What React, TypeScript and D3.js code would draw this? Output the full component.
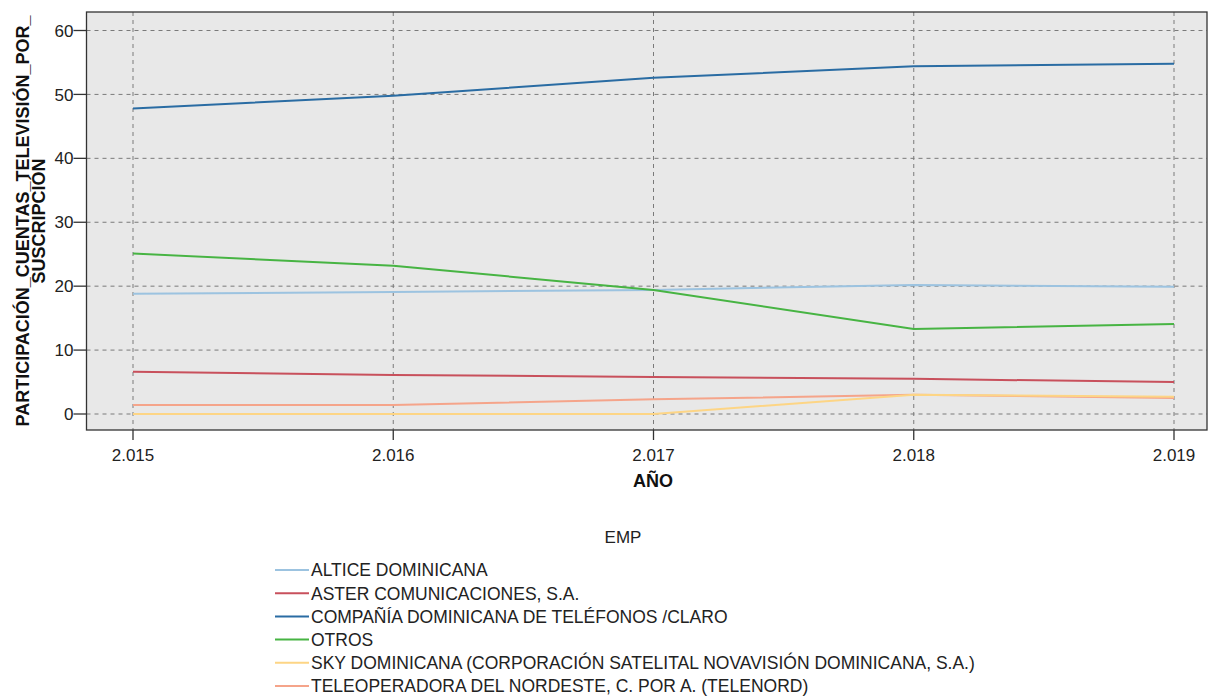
import React from "react";
import * as d3 from "d3";

const years = [2015, 2016, 2017, 2018, 2019];
const yearLabels = ["2.015", "2.016", "2.017", "2.018", "2.019"];
const yTicks = [0, 10, 20, 30, 40, 50, 60];

const seriesNames = [
  "ALTICE DOMINICANA",
  "ASTER COMUNICACIONES, S.A.",
  "COMPAÑÍA DOMINICANA DE TELÉFONOS /CLARO",
  "OTROS",
  "SKY DOMINICANA (CORPORACIÓN SATELITAL NOVAVISIÓN DOMINICANA, S.A.)",
  "TELEOPERADORA DEL NORDESTE, C. POR A. (TELENORD)",
];
const seriesColors = ["#9cc3e0", "#c8505c", "#2a6ca3", "#47b443", "#fdd585", "#f5a48a"];

const altice = [18.8, 19.1, 19.4, 20.2, 19.9];
const aster = [6.6, 6.1, 5.8, 5.5, 5.0];
const claro = [47.8, 49.8, 52.6, 54.4, 54.8];
const otros = [25.1, 23.2, 19.4, 13.3, 14.1];
const sky = [0.0, 0.0, 0.0, 3.0, 2.7];
const telenord = [1.4, 1.4, 2.3, 3.0, 2.5];

const seriesValues = [altice, aster, claro, otros, sky, telenord];
// draw order (back to front)
const drawOrder = [0, 5, 4, 1, 3, 2];

export default function App() {
  const W = 1209, H = 696;
  const left = 86.5, right = 1207, top = 12, bottom = 430;
  const x = d3.scaleLinear().domain([2015, 2019]).range([133, 1174]);
  const y = d3.scaleLinear().domain([0, 60]).range([414, 30.5]);
  const line = d3.line<number>().x((_, i) => x(years[i])).y((d) => y(d));
  const font = "'Liberation Sans', Arial, sans-serif";

  return (
    <svg width={W} height={H} style={{ position: "absolute", left: 0, top: 0, fontFamily: font }}>
      <rect x={0} y={0} width={W} height={H} fill="#ffffff" />
      <rect x={left} y={top} width={right - left} height={bottom - top} fill="#e8e8e8" />
      {yTicks.map((t) => (
        <line key={"gy" + t} x1={left} x2={right} y1={y(t)} y2={y(t)} stroke="#7a7a7a" strokeWidth={1} strokeDasharray="4,4" />
      ))}
      {years.map((yr) => (
        <line key={"gx" + yr} x1={x(yr)} x2={x(yr)} y1={top} y2={bottom} stroke="#7a7a7a" strokeWidth={1} strokeDasharray="4,4" />
      ))}
      {drawOrder.map((i) => (
        <path key={"s" + i} d={line(seriesValues[i]) || ""} fill="none" stroke={seriesColors[i]} strokeWidth={2} />
      ))}
      <rect x={left} y={top} width={right - left} height={bottom - top} fill="none" stroke="#333" strokeWidth={1.3} />
      {yTicks.map((t) => (
        <g key={"ty" + t}>
          <line x1={left - 13} x2={left} y1={y(t)} y2={y(t)} stroke="#333" strokeWidth={1.3} />
          <text x={left - 13} y={y(t)} dy="0.36em" textAnchor="end" fontSize={17} fill="#222">{t}</text>
        </g>
      ))}
      {years.map((yr, i) => (
        <g key={"tx" + yr}>
          <line x1={x(yr)} x2={x(yr)} y1={bottom} y2={bottom + 10} stroke="#333" strokeWidth={1.3} />
          <text x={x(yr)} y={bottom + 31} textAnchor="middle" fontSize={17} fill="#222">{yearLabels[i]}</text>
        </g>
      ))}
      <text x={653} y={487} textAnchor="middle" fontSize={18} fontWeight="bold" fill="#111">AÑO</text>
      <g transform="translate(29,221) rotate(-90)">
        <text x={0} y={0} textAnchor="middle" fontSize={18} fontWeight="bold" fill="#111">PARTICIPACIÓN_CUENTAS_TELEVISIÓN_POR_</text>
        <text x={0} y={16} textAnchor="middle" fontSize={18} fontWeight="bold" fill="#111">SUSCRIPCIÓN</text>
      </g>
      <text x={623} y={537} dy="0.36em" textAnchor="middle" fontSize={17} fill="#222">EMP</text>
      {seriesNames.map((n, i) => {
        const ly = 570 + i * 23.2;
        return (
          <g key={"lg" + i}>
            <line x1={275} x2={309} y1={ly} y2={ly} stroke={seriesColors[i]} strokeWidth={2} />
            <text x={311} y={ly} dy="0.36em" fontSize={17.5} fill="#222">{n}</text>
          </g>
        );
      })}
    </svg>
  );
}
